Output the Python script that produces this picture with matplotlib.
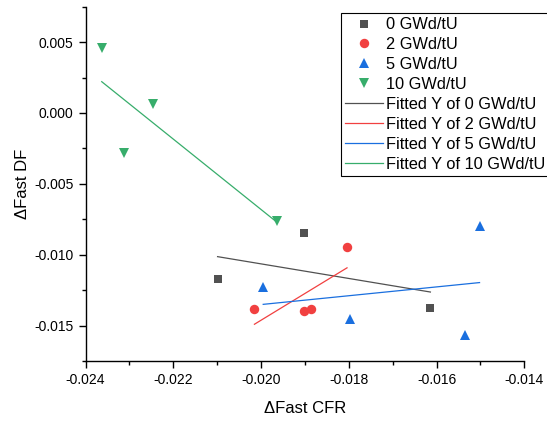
import numpy as np
import matplotlib
matplotlib.use("Agg")
import matplotlib.pyplot as plt
from matplotlib.ticker import MultipleLocator, FormatStrFormatter

plt.rcParams['font.family'] = ['Liberation Sans', 'DejaVu Sans']

labels = ["0 GWd/tU", "2 GWd/tU", "5 GWd/tU", "10 GWd/tU"]
x0 = [-0.01902, -0.02099, -0.01614]
y0 = [-0.00845, -0.01174, -0.01373]
x2 = [-0.02015, -0.01902, -0.01886, -0.01804]
y2 = [-0.01385, -0.01394, -0.01380, -0.00949]
x5 = [-0.01995, -0.01798, -0.01536, -0.01502]
y5 = [-0.01225, -0.01456, -0.01568, -0.00794]
x10 = [-0.02363, -0.02247, -0.02313, -0.01964]
y10 = [0.0046, 0.0006, -0.0028, -0.0076]

colors = ["#515151", "#F14040", "#1A6FDF", "#37AD6B"]
markers = ["s", "o", "^", "v"]
msizes = [5.8, 6.8, 7.5, 7.5]

fig = plt.figure(figsize=(5.47, 4.21), dpi=100)
ax = fig.add_axes([85.5/547, 1-361/421, (524.3-85.5)/547, (361-6.7)/421])

series = [(x0, y0), (x2, y2), (x5, y5), (x10, y10)]
handles_m = []
handles_l = []
for (xs, ys), c, m, ms, lab in zip(series, colors, markers, msizes, labels):
    h, = ax.plot(xs, ys, linestyle='none', marker=m, markersize=ms, color=c,
                 markeredgewidth=0, label=lab, zorder=3)
    handles_m.append(h)
for (xs, ys), c, lab in zip(series, colors, labels):
    xs = np.array(xs); ys = np.array(ys)
    k, b = np.polyfit(xs, ys, 1)
    xl = np.array([xs.min(), xs.max()])
    h, = ax.plot(xl, k*xl + b, color=c, linewidth=0.9, label="Fitted Y of " + lab, zorder=2)
    handles_l.append(h)

ax.set_xlim(-0.024, -0.014)
ax.set_ylim(-0.0175, 0.0075)
ax.xaxis.set_major_locator(MultipleLocator(0.002))
ax.xaxis.set_minor_locator(MultipleLocator(0.001))
ax.yaxis.set_major_locator(MultipleLocator(0.005))
ax.yaxis.set_minor_locator(MultipleLocator(0.0025))
ax.xaxis.set_major_formatter(FormatStrFormatter('%.3f'))
ax.yaxis.set_major_formatter(FormatStrFormatter('%.3f'))
for s in ['top', 'right']:
    ax.spines[s].set_visible(False)
for s in ['left', 'bottom']:
    ax.spines[s].set_linewidth(1.0)
ax.tick_params(which='major', direction='out', length=5, width=1.0, labelsize=10)
ax.tick_params(which='minor', direction='out', length=3, width=1.0)
ax.set_xlabel("ΔFast CFR", fontsize=12, labelpad=10)
ax.set_ylabel("ΔFast DF", fontsize=12)
ax.yaxis.set_label_coords(-0.126, 0.5)

leg = fig.legend(handles_m + handles_l, [h.get_label() for h in handles_m + handles_l],
                 loc='upper left', bbox_to_anchor=(340.7/547, 1-12.7/421),
                 borderaxespad=0, fontsize=11.8, frameon=True, fancybox=False,
                 edgecolor='black', framealpha=1, numpoints=1, handlelength=2.3,
                 handletextpad=0.2, labelspacing=0.3, borderpad=0.28)
leg.get_frame().set_linewidth(0.8)

fig.savefig("out.png", dpi=100)
